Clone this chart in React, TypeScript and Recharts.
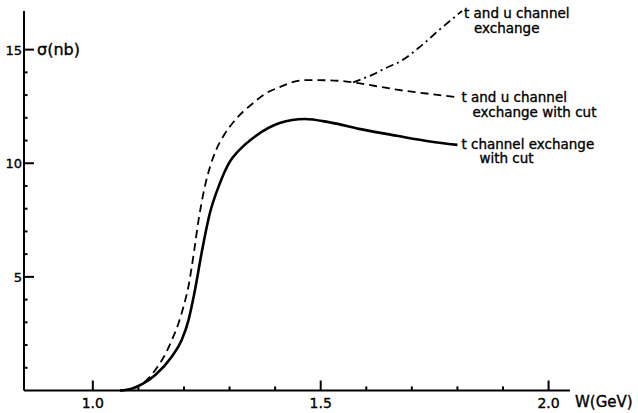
import React from 'react';
import { LineChart, Line, XAxis, YAxis, ReferenceDot, ReferenceLine, Label } from 'recharts';

// t channel exchange with cut (solid)
const wSolid = [1.06, 1.085, 1.11, 1.137, 1.173, 1.195, 1.21, 1.222, 1.24, 1.255, 1.279, 1.3, 1.32, 1.356, 1.41, 1.465, 1.52, 1.593, 1.667, 1.74, 1.8];
const sigmaSolid = [0, 0.08, 0.3, 0.68, 1.49, 2.22, 3.1, 4.2, 6.19, 7.66, 9.13, 10.05, 10.55, 11.18, 11.77, 11.95, 11.8, 11.48, 11.21, 10.96, 10.81];

// t and u channel exchange with cut (dashed)
const wDashed = [1.06, 1.09, 1.115, 1.135, 1.155, 1.173, 1.188, 1.199, 1.21, 1.222, 1.232, 1.245, 1.258, 1.272, 1.286, 1.31, 1.35, 1.38, 1.41, 1.44, 1.469, 1.52, 1.571, 1.62, 1.667, 1.74, 1.8];
const sigmaDashed = [0, 0.1, 0.4, 0.85, 1.45, 2.2, 2.96, 3.69, 4.6, 6.1, 7.5, 8.9, 9.9, 10.65, 11.18, 11.85, 12.62, 13.08, 13.35, 13.58, 13.66, 13.65, 13.56, 13.4, 13.24, 13.05, 12.9];

// t and u channel exchange (dash-dot)
const wDashDot = [1.571, 1.614, 1.643, 1.676, 1.718, 1.762, 1.81];
const sigmaDashDot = [13.56, 13.9, 14.19, 14.5, 15.13, 15.9, 16.7];

const xTicks = [1.0, 1.1, 1.2, 1.3, 1.4, 1.5, 1.6, 1.7, 1.8, 1.9, 2.0];
const xMajor = [1.0, 1.5, 2.0];
const yTicks = [1, 2, 3, 4, 5, 6, 7, 8, 9, 10, 11, 12, 13, 14, 15];
const yMajor = [5, 10, 15];

const labelDashDot = ['t and u channel', 'exchange'];
const labelDashed = ['t and u channel', 'exchange with cut'];
const labelSolid = ['t  channel exchange', 'with cut'];

const X_MIN = 0.849;
const X_MAX = 2.047;
const Y_MIN = 0;
const Y_MAX = 16.7;
// tick mark lengths expressed in data units of the perpendicular axis (~10px major, ~4px minor)
const X_TICK_MAJOR = 0.44;
const X_TICK_MINOR = 0.18;
const Y_TICK_MAJOR = 0.022;
const Y_TICK_MINOR = 0.0078;

const toPoints = (w: number[], s: number[]) => w.map((x, i) => ({ w: x, s: s[i] }));
const solidData = toPoints(wSolid, sigmaSolid);
const dashedData = toPoints(wDashed, sigmaDashed);
const dashDotData = toPoints(wDashDot, sigmaDashDot);

const FONT = '"DejaVu Sans", sans-serif';
const isMajor = (list: number[], v: number) => list.some((m) => Math.abs(m - v) < 1e-6);

const XTick = (props: any) => {
  const { x, y, payload } = props;
  const major = isMajor(xMajor, payload.value);
  if (!major) return <g />;
  return (
    <text x={x} y={y + 17} textAnchor="middle" fontFamily={FONT} fontSize={14} fill="#000" stroke="#000" strokeWidth={0.35}>
      {payload.value.toFixed(1)}
    </text>
  );
};

const YTick = (props: any) => {
  const { x, y, payload } = props;
  const major = isMajor(yMajor, payload.value);
  if (!major) return <g />;
  return (
    <text x={x - 2} y={y + 5} textAnchor="end" fontFamily={FONT} fontSize={13} fill="#000" stroke="#000" strokeWidth={0.35}>
      {String(payload.value)}
    </text>
  );
};

const makeLabel = (lines: string[], dx1: number, dx2: number, dy: number) => (props: any) => {
  const vb = props.viewBox || {};
  const cx = vb.x + (vb.width || 0) / 2;
  const cy = vb.y + (vb.height || 0) / 2;
  return (
    <g>
      <text x={cx + dx1} y={cy + dy} fontFamily={FONT} fontSize={13.5} fill="#000" stroke="#000" strokeWidth={0.35}>
        {lines[0]}
      </text>
      <text x={cx + dx2} y={cy + dy + 14.5} fontFamily={FONT} fontSize={13.5} fill="#000" stroke="#000" strokeWidth={0.35}>
        {lines[1]}
      </text>
    </g>
  );
};

const YLabel = (props: any) => {
  const vb = props.viewBox || {};
  return (
    <text x={vb.x + vb.width + 13} y={vb.y + 44} fontFamily={FONT} fontSize={16} fill="#000" stroke="#000" strokeWidth={0.35}>
      σ(nb)
    </text>
  );
};

const XLabel = (props: any) => {
  const vb = props.viewBox || {};
  return (
    <text x={vb.x + vb.width + 5} y={vb.y + 16} fontFamily={FONT} fontSize={15} fill="#000" stroke="#000" strokeWidth={0.35}>
      W(GeV)
    </text>
  );
};

export default function App() {
  const last = (a: number[]) => a[a.length - 1];
  return (
    <div style={{ position: 'absolute', left: 0, top: 0, width: 638, height: 413, background: '#fff' }}>
      <LineChart width={638} height={413} margin={{ top: 11, right: 68, left: 0, bottom: 0 }}>
        <XAxis
          type="number"
          dataKey="w"
          domain={[X_MIN, X_MAX]}
          ticks={xTicks}
          tick={<XTick />}
          tickLine={false}
          tickSize={0}
          tickMargin={0}
          height={22.5}
          axisLine={{ stroke: '#000', strokeWidth: 2 }}
          interval={0}
        >
          <Label content={<XLabel />} />
        </XAxis>
        <YAxis
          type="number"
          dataKey="s"
          domain={[Y_MIN, Y_MAX]}
          ticks={yTicks}
          tick={<YTick />}
          tickLine={false}
          tickSize={0}
          tickMargin={0}
          width={24}
          axisLine={{ stroke: '#000', strokeWidth: 2 }}
          interval={0}
        >
          <Label content={<YLabel />} />
        </YAxis>
        {xTicks.map((t) => (
          <ReferenceLine
            key={`xt-${t}`}
            segment={[{ x: t, y: Y_MIN }, { x: t, y: isMajor(xMajor, t) ? X_TICK_MAJOR : X_TICK_MINOR }]}
            stroke="#000"
            strokeWidth={2}
            ifOverflow="visible"
          />
        ))}
        {yTicks.map((t) => (
          <ReferenceLine
            key={`yt-${t}`}
            segment={[{ x: X_MIN, y: t }, { x: X_MIN + (isMajor(yMajor, t) ? Y_TICK_MAJOR : Y_TICK_MINOR), y: t }]}
            stroke="#000"
            strokeWidth={2}
            ifOverflow="visible"
          />
        ))}
        <Line data={dashedData} dataKey="s" type="monotone" stroke="#000" strokeWidth={1.8} strokeDasharray="8 5" dot={false} isAnimationActive={false} />
        <Line data={dashDotData} dataKey="s" type="monotone" stroke="#000" strokeWidth={1.8} strokeDasharray="8 4 2 4" dot={false} isAnimationActive={false} />
        <Line data={solidData} dataKey="s" type="monotone" stroke="#000" strokeWidth={2.6} dot={false} isAnimationActive={false} />
        <ReferenceDot x={last(wDashDot)} y={last(sigmaDashDot)} r={0} fill="none" stroke="none" ifOverflow="visible" label={{ content: makeLabel(labelDashDot, 2, 12, 7) }} />
        <ReferenceDot x={last(wDashed)} y={last(sigmaDashed)} r={0} fill="none" stroke="none" ifOverflow="visible" label={{ content: makeLabel(labelDashed, 4, 15, 5) }} />
        <ReferenceDot x={last(wSolid)} y={last(sigmaSolid)} r={0} fill="none" stroke="none" ifOverflow="visible" label={{ content: makeLabel(labelSolid, 4, 22, 4) }} />
      </LineChart>
    </div>
  );
}
